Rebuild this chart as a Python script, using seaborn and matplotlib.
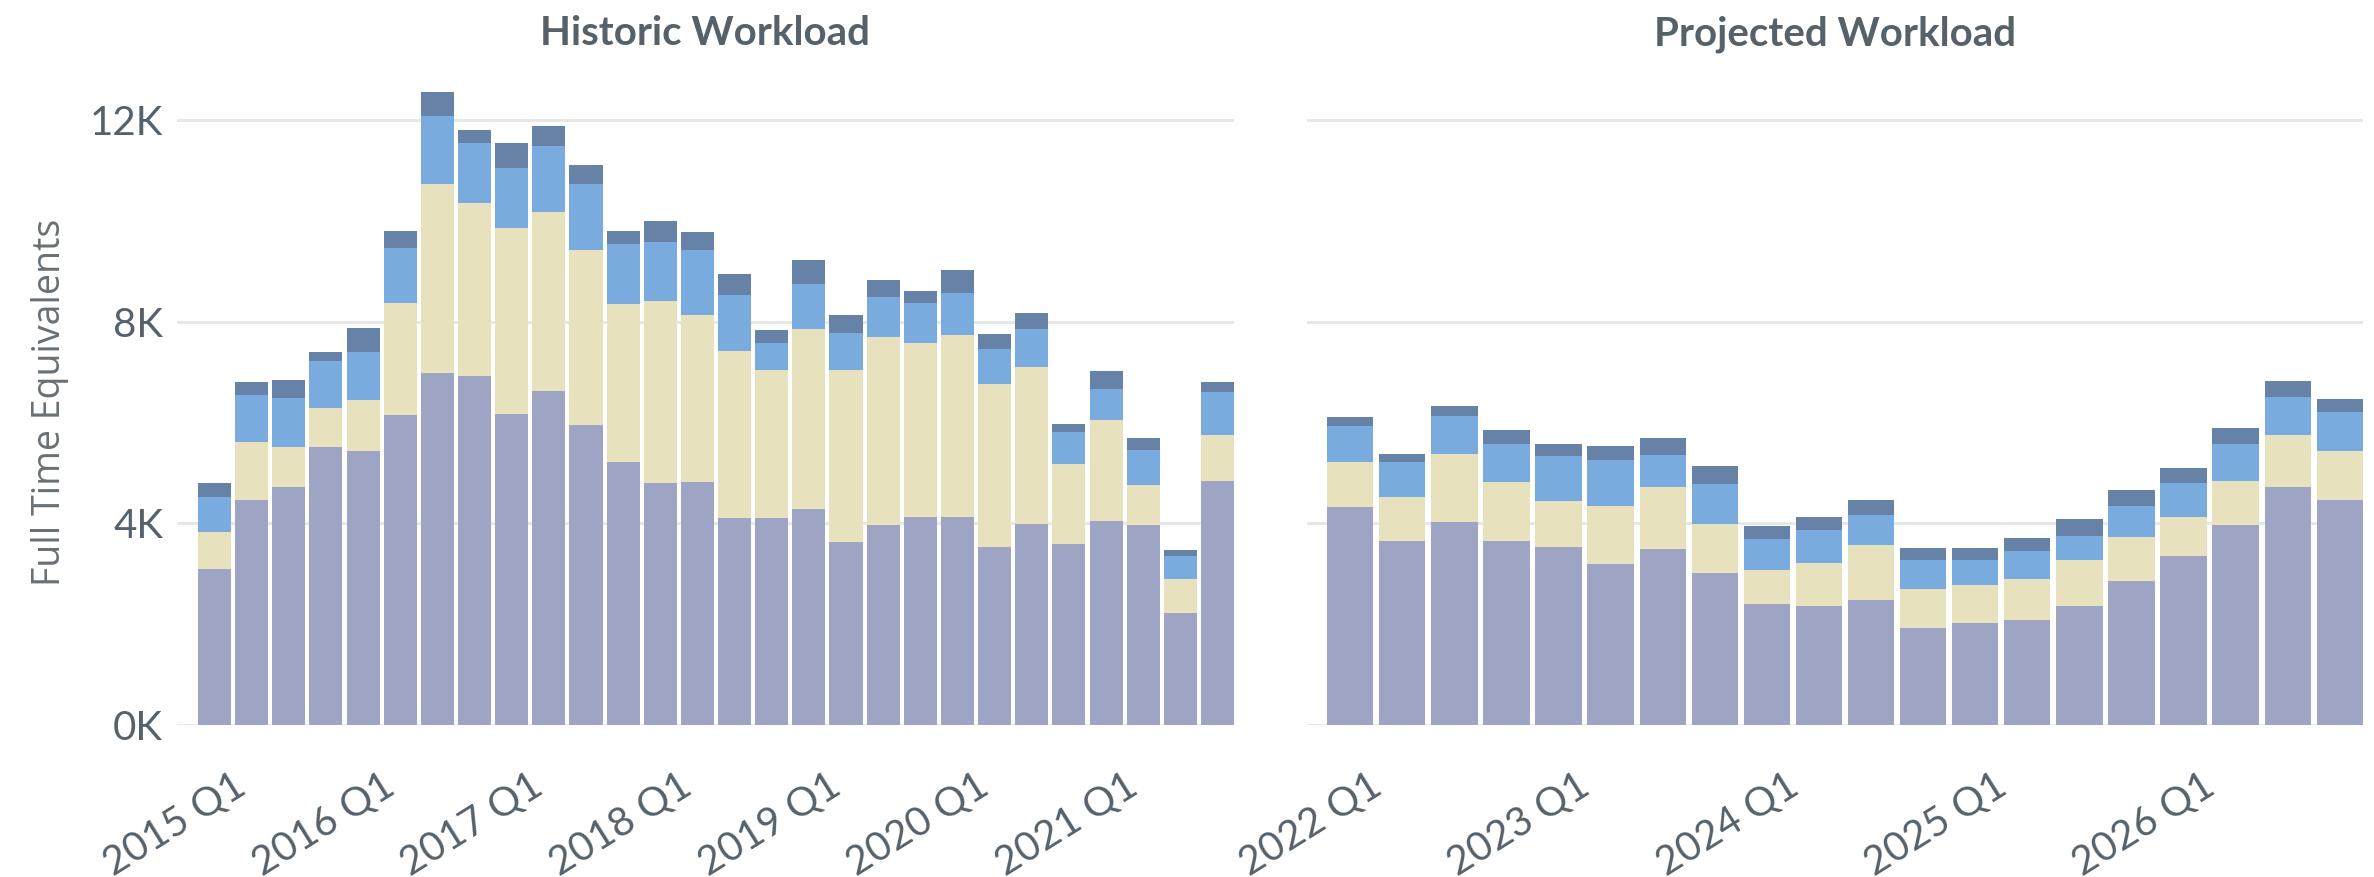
import matplotlib
matplotlib.use("Agg")
import matplotlib.pyplot as plt
import matplotlib.transforms as mtransforms
import seaborn as sns
import pandas as pd
import numpy as np

# historic quarters 2015 Q1 .. 2021 Q4
hist_quarters = [f"{y} Q{q}" for y in range(2015, 2022) for q in range(1, 5)]
hist_base = [3100, 4470, 4720, 5510, 5430, 6150, 6980, 6920, 6180, 6630, 5950, 5210, 4800, 4820,
             4110, 4110, 4290, 3630, 3960, 4125, 4125, 3530, 3990, 3600, 4045, 3960, 2230, 4840]
hist_mid = [740, 1140, 790, 780, 1020, 2230, 3760, 3430, 3690, 3560, 3470, 3140, 3620, 3320,
            3310, 2930, 3560, 3410, 3730, 3450, 3610, 3235, 3120, 1585, 2005, 810, 675, 920]
hist_upper = [680, 940, 980, 940, 960, 1080, 1340, 1200, 1180, 1300, 1320, 1200, 1170, 1280,
              1120, 550, 900, 745, 805, 805, 840, 690, 740, 620, 625, 690, 440, 845]
hist_top = [280, 260, 360, 170, 460, 340, 480, 250, 500, 400, 370, 245, 410, 370,
            410, 240, 480, 345, 345, 230, 450, 310, 330, 170, 350, 230, 130, 210]

# projected quarters 2022 Q1 .. 2026 Q4
proj_quarters = [f"{y} Q{q}" for y in range(2022, 2027) for q in range(1, 5)]
proj_base = [4335, 3660, 4025, 3660, 3530, 3200, 3485, 3025, 2395, 2370,
             2475, 1925, 2025, 2090, 2355, 2850, 3345, 3975, 4730, 4470]
proj_mid = [880, 860, 1355, 1155, 925, 1155, 1235, 970, 675, 845,
            1100, 765, 745, 810, 910, 890, 790, 875, 1020, 975]
proj_upper = [720, 695, 760, 770, 880, 910, 645, 780, 625, 645,
              595, 575, 495, 550, 495, 615, 670, 720, 750, 770]
proj_top = [185, 165, 200, 265, 250, 280, 335, 355, 245, 265,
            305, 245, 245, 265, 330, 310, 295, 315, 320, 245]

colors = ["#9ea4c3", "#e7e2bd", "#79abdf", "#6682a6"]
text_color = "#57616a"

sns.set_style("white")
plt.rcParams["font.family"] = ["Lato", "DejaVu Sans"]
plt.rcParams["text.color"] = text_color
plt.rcParams["axes.labelcolor"] = text_color
plt.rcParams["xtick.color"] = text_color
plt.rcParams["ytick.color"] = text_color

fig = plt.figure(figsize=(23.74, 8.77), dpi=100)
bottom, height = 1 - 725 / 877, 645 / 877
ax1 = fig.add_axes([177 / 2374, bottom, (1234 - 177) / 2374, height])
ax2 = fig.add_axes([1307 / 2374, bottom, (2363 - 1307) / 2374, height])

W = 0.89


def stacked(ax, quarters, layers, pad_px, title):
    df = pd.DataFrame({"quarter": quarters})
    cum = np.cumsum(np.array(layers), axis=0)
    # draw tallest first so the lower layers sit on top
    for i in range(len(layers) - 1, -1, -1):
        df["v"] = cum[i]
        sns.barplot(data=df, x="quarter", y="v", color=colors[i], saturation=1,
                    width=W, linewidth=0, ax=ax, zorder=2)
    n = len(quarters)
    # convert left padding in px to data units
    span_px = ax.get_position().width * fig.get_figwidth() * fig.dpi
    pitch = (span_px - pad_px) / (n - 1 + W)
    ax.set_xlim(-W / 2 - pad_px / pitch, n - 1 + W / 2)
    ax.set_ylim(0, 12800)
    ax.set_yticks([0, 4000, 8000, 12000])
    ax.yaxis.grid(True, color="#e6e6e6", linewidth=2, zorder=0)
    ax.xaxis.grid(False)
    ax.set_axisbelow(True)
    for s in ax.spines.values():
        s.set_visible(False)
    ax.tick_params(axis="x", length=0, pad=0)
    ax.tick_params(axis="y", length=0, pad=10, labelsize=29)
    ticks = list(range(0, n, 4))
    ax.set_xticks(ticks)
    ax.set_xticklabels([quarters[t] for t in ticks], rotation=32, ha="right", va="top",
                       rotation_mode="anchor", fontsize=29)
    # shift the rotated labels right and down (in pixels)
    off = mtransforms.ScaledTranslation(18 / 100, -42 / 100, fig.dpi_scale_trans)
    for lab in ax.get_xticklabels():
        lab.set_transform(lab.get_transform() + off)
    ax.set_xlabel("")
    ax.set_ylabel("")
    ax.set_title(title, fontsize=29, fontweight="bold", color=text_color, pad=25)


stacked(ax1, hist_quarters, [hist_base, hist_mid, hist_upper, hist_top], 21, "Historic Workload")
stacked(ax2, proj_quarters, [proj_base, proj_mid, proj_upper, proj_top], 20, "Projected Workload")

ax1.set_yticklabels(["0K", "4K", "8K", "12K"])
ax2.set_yticklabels([])
ax1.set_ylabel("Full Time Equivalents", fontsize=27, family=["Open Sans", "DejaVu Sans"],
               color="#687076", labelpad=15)

fig.savefig("out.png", dpi=100, facecolor="white")
